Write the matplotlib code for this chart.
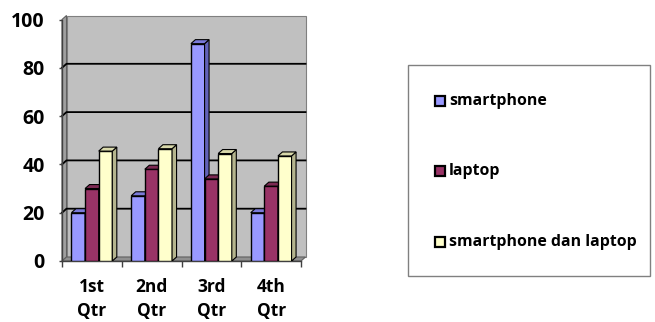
import matplotlib.pyplot as plt
from matplotlib.patches import Polygon, Rectangle

# Quarterly values per series
categories = ['1st\nQtr', '2nd\nQtr', '3rd\nQtr', '4th\nQtr']
series_names = ['smartphone', 'laptop', 'smartphone dan laptop']
smartphone = [20, 27, 90, 20]
laptop = [30, 38, 34, 31]
both = [45.5, 46.5, 44.5, 43.5]
yticks = [0, 20, 40, 60, 80, 100]

face_colors = ['#9999FF', '#993366', '#FFFFCC']
side_colors = ['#6262B8', '#6A2347', '#B5B58E']
top_colors = ['#7A7AD8', '#7D2A53', '#D8D8AA']

plt.rcParams['font.family'] = ['Open Sans', 'DejaVu Sans']
plt.rcParams['font.weight'] = 'bold'

fig = plt.figure(figsize=(6.55, 3.22), dpi=100)
W, H = 655, 322
# front plane of the plot: x 62..301 px, y 261..19.5 px (from top)
ax = fig.add_axes([62 / W, (H - 261) / H, 239 / W, 241.5 / H])
ax.set_xlim(-0.5, 3.5)
ax.set_ylim(0, 100)

# depth of the pseudo-3d walls, in data units
dx = 4.5 / (239 / 4)
dy = 4.0 / 2.415

# back wall, side wall and floor
ax.add_patch(Polygon([(-0.5 + dx, dy), (3.5 + dx, dy), (3.5 + dx, 100 + dy), (-0.5 + dx, 100 + dy)],
                     closed=True, facecolor='#C0C0C0', edgecolor='#808080', lw=0.8, clip_on=False, zorder=0))
ax.add_patch(Polygon([(-0.5, 0), (-0.5 + dx, dy), (-0.5 + dx, 100 + dy), (-0.5, 100)],
                     closed=True, facecolor='#A0A0A0', edgecolor='#606060', lw=0.8, clip_on=False, zorder=0))
ax.add_patch(Polygon([(-0.5, 0), (3.5, 0), (3.5 + dx, dy), (-0.5 + dx, dy)],
                     closed=True, facecolor='#909090', edgecolor='#606060', lw=0.8, clip_on=False, zorder=0))

# gridlines on the back wall
for v in yticks[1:-1]:
    ax.plot([-0.5, -0.5 + dx, 3.5 + dx], [v, v + dy, v + dy], color='black', lw=1.3,
            clip_on=False, zorder=1)

# bars with side and top faces
width = 0.228
for i, vals in enumerate([smartphone, laptop, both]):
    xs = [c - 1.5 * width + i * width for c in range(len(categories))]
    ax.bar(xs, vals, width=width, align='edge', color=face_colors[i], edgecolor='black',
           lw=1.0, zorder=3 + i, label=series_names[i])
    for x0, v in zip(xs, vals):
        ax.add_patch(Polygon([(x0 + width, 0), (x0 + width + dx, dy), (x0 + width + dx, v + dy), (x0 + width, v)],
                             closed=True, facecolor=side_colors[i], edgecolor='black', lw=0.8, zorder=3 + i))
        ax.add_patch(Polygon([(x0, v), (x0 + width, v), (x0 + width + dx, v + dy), (x0 + dx, v + dy)],
                             closed=True, facecolor=top_colors[i], edgecolor='black', lw=0.8, zorder=3 + i))

# axes
ax.set_facecolor('none')
for s in ['top', 'right']:
    ax.spines[s].set_visible(False)
for s in ['left', 'bottom']:
    ax.spines[s].set_color('#404040')
    ax.spines[s].set_linewidth(1.0)
ax.set_yticks(yticks)
ax.set_yticklabels([str(t) for t in yticks], fontweight='bold')
ax.tick_params(axis='y', length=2.5, width=1, color='#404040', pad=10, labelsize=14)
ax.set_xticks([-0.5, 0.5, 1.5, 2.5, 3.5])
ax.set_xticklabels([])
ax.tick_params(axis='x', which='major', length=4.5, width=1, color='#404040')
ax.set_xticks(range(len(categories)), minor=True)
ax.set_xticklabels(categories, minor=True, fontsize=12.5, fontweight='bold', linespacing=1.45)
ax.tick_params(axis='x', which='minor', length=0, pad=12)

# legend box
fig.patches.append(Rectangle((408 / W, (H - 276) / H), 242 / W, 211 / H, transform=fig.transFigure,
                             facecolor='white', edgecolor='#808080', lw=1.0))
for i, (name, ypx) in enumerate(zip(series_names, [101, 171, 242])):
    s = 10
    fig.patches.append(Rectangle((435 / W, (H - ypx - s / 2) / H), s / W, s / H, transform=fig.transFigure,
                                 facecolor=face_colors[i], edgecolor='black', lw=1.6))
    fig.text(449 / W, (H - ypx) / H, name, fontsize=11.4, fontweight='bold', va='center', ha='left')

fig.savefig('out.png', dpi=100)
